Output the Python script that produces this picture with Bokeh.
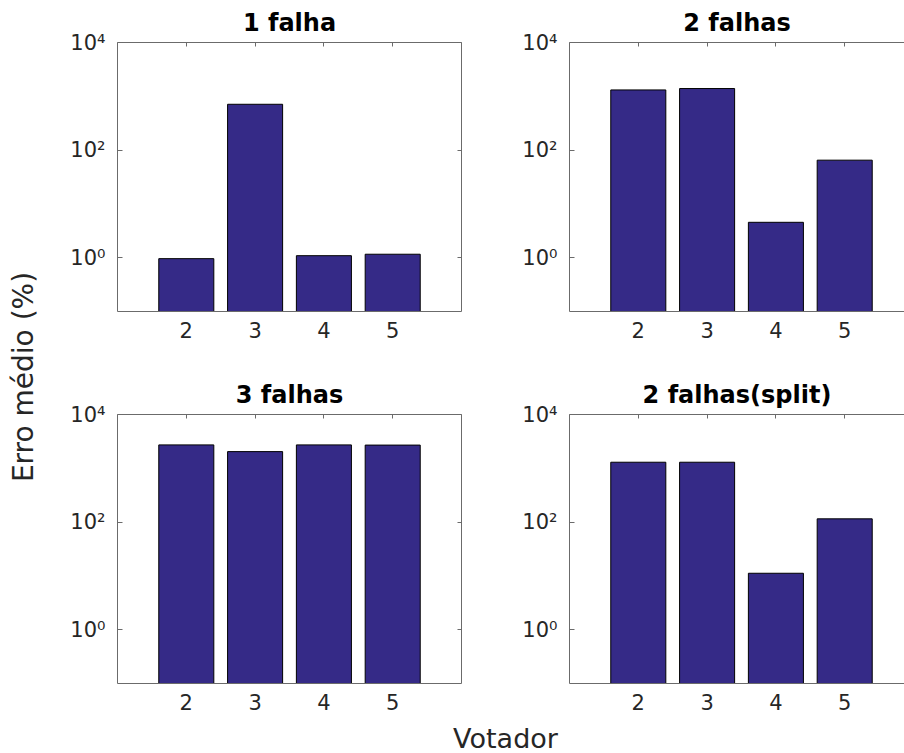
from math import pi

from bokeh.plotting import figure
from bokeh.layouts import row, column
from bokeh.models import (FixedTicker, Range1d, LinearAxis, LogAxis, Label,
                          ColumnDataSource)
from bokeh.embed import file_html
from bokeh.resources import INLINE

# ---------------- data ----------------
voters = [2, 3, 4, 5]
titles = ["1 falha", "2 falhas", "3 falhas", "2 falhas(split)"]
err_1_falha = [0.96, 711, 1.09, 1.16]
err_2_falhas = [1313, 1394, 4.55, 65]
err_3_falhas = [2723, 2042, 2723, 2700]
err_2_falhas_split = [1297, 1297, 11.2, 115]
y_ticks = [1, 100, 10000]
y_tick_labels = ["10⁰", "10²", "10⁴"]
x_label = "Votador"
y_label = "Erro médio (%)"

# ---------------- style ----------------
FONT = "DejaVu Sans"
TXT = "#262626"
AX = "#6b6b6b"
BAR = "#352A87"


def panel(title, values, x_end, left_b, right_b, top_b, bottom_b, width, height, right_axis):
    p = figure(width=width, height=height, y_axis_type="log",
               x_range=Range1d(1, x_end), y_range=Range1d(0.1, 10000),
               output_backend="svg", toolbar_location=None,
               title=title,
               min_border_left=left_b, min_border_right=right_b,
               min_border_top=top_b, min_border_bottom=bottom_b)
    p.outline_line_color = None
    p.grid.visible = False
    p.background_fill_color = "white"
    p.border_fill_color = "white"

    src = ColumnDataSource(dict(x=voters, top=values))
    p.vbar(x="x", top="top", bottom=0.01, width=0.8, source=src,
           fill_color=BAR, line_color="black", line_width=1)

    # title
    p.title.align = "center"
    p.title.text_font = FONT
    p.title.text_font_size = "24px"
    p.title.text_font_style = "bold"
    p.title.text_color = "black"
    p.title.standoff = 12

    # bottom axis
    xa = p.xaxis[0]
    xa.ticker = FixedTicker(ticks=voters)
    xa.major_tick_in = 0
    xa.major_tick_out = 0
    xa.minor_tick_line_color = None
    xa.axis_line_color = AX
    xa.major_label_text_font = FONT
    xa.major_label_text_font_size = "21px"
    xa.major_label_text_color = TXT
    xa.major_label_standoff = 10

    # left axis
    ya = p.yaxis[0]
    ya.ticker = FixedTicker(ticks=y_ticks)
    ya.major_label_overrides = dict(zip(y_ticks, y_tick_labels))
    ya.major_tick_in = 5
    ya.major_tick_out = 0
    ya.major_tick_line_color = AX
    ya.minor_tick_line_color = None
    ya.axis_line_color = AX
    ya.major_label_text_font = FONT
    ya.major_label_text_font_size = "21px"
    ya.major_label_text_color = TXT
    ya.major_label_standoff = 12

    # top axis (box edge with inward ticks, no labels)
    top = LinearAxis(ticker=FixedTicker(ticks=voters),
                     major_label_text_font_size="1px", major_label_text_color=None,
                     major_label_standoff=0,
                     major_tick_in=4, major_tick_out=0,
                     minor_tick_line_color=None,
                     axis_line_color=AX, major_tick_line_color=AX)
    p.add_layout(top, "above")

    if right_axis:
        ra = LogAxis(ticker=FixedTicker(ticks=y_ticks),
                     major_label_text_font_size="1px", major_label_text_color=None,
                     major_label_standoff=0,
                     major_tick_in=4, major_tick_out=0,
                     minor_tick_line_color=None,
                     axis_line_color=AX, major_tick_line_color=AX)
        p.add_layout(ra, "right")
    return p


YL_W = 50
LB = 117 - YL_W
W_L = LB + 344 + 10
W_R = 98 + 335
H_TOP = 42 + 269 + 50
H_BOT = 53 + 269 + 31
x_end_right = 1 + 335 / 68.8

p1 = panel(titles[0], err_1_falha, 6, LB, 10, 42, 50, W_L, H_TOP, True)
p2 = panel(titles[1], err_2_falhas, x_end_right, 98, 0, 42, 50, W_R, H_TOP, False)
p3 = panel(titles[2], err_3_falhas, 6, LB, 10, 53, 31, W_L, H_BOT, True)
p4 = panel(titles[3], err_2_falhas_split, x_end_right, 98, 0, 53, 31, W_R, H_BOT, False)


def label_fig(w, h):
    f = figure(width=w, height=h, x_range=Range1d(0, w), y_range=Range1d(0, h),
               output_backend="svg", toolbar_location=None,
               x_axis_location=None, y_axis_location=None,
               min_border_left=0, min_border_right=0,
               min_border_top=0, min_border_bottom=0)
    f.outline_line_color = None
    f.grid.visible = False
    return f


XL_H = 753 - H_TOP - H_BOT
xl = label_fig(W_L + W_R, XL_H)
xl.add_layout(Label(x=505 - YL_W, y=0, text=x_label, text_align="center",
                    text_baseline="bottom", text_font=FONT,
                    text_font_size="27px", text_color=TXT))

YL_H = H_TOP + H_BOT + XL_H
yl = label_fig(YL_W, YL_H)
yl.add_layout(Label(x=23, y=YL_H - 376.5, text=y_label, angle=pi / 2,
                    text_align="center", text_baseline="middle", text_font=FONT,
                    text_font_size="28px", text_color=TXT))

layout = row(yl, column(row(p1, p2), row(p3, p4), xl))

open("out.html", "w").write(file_html(layout, INLINE))
